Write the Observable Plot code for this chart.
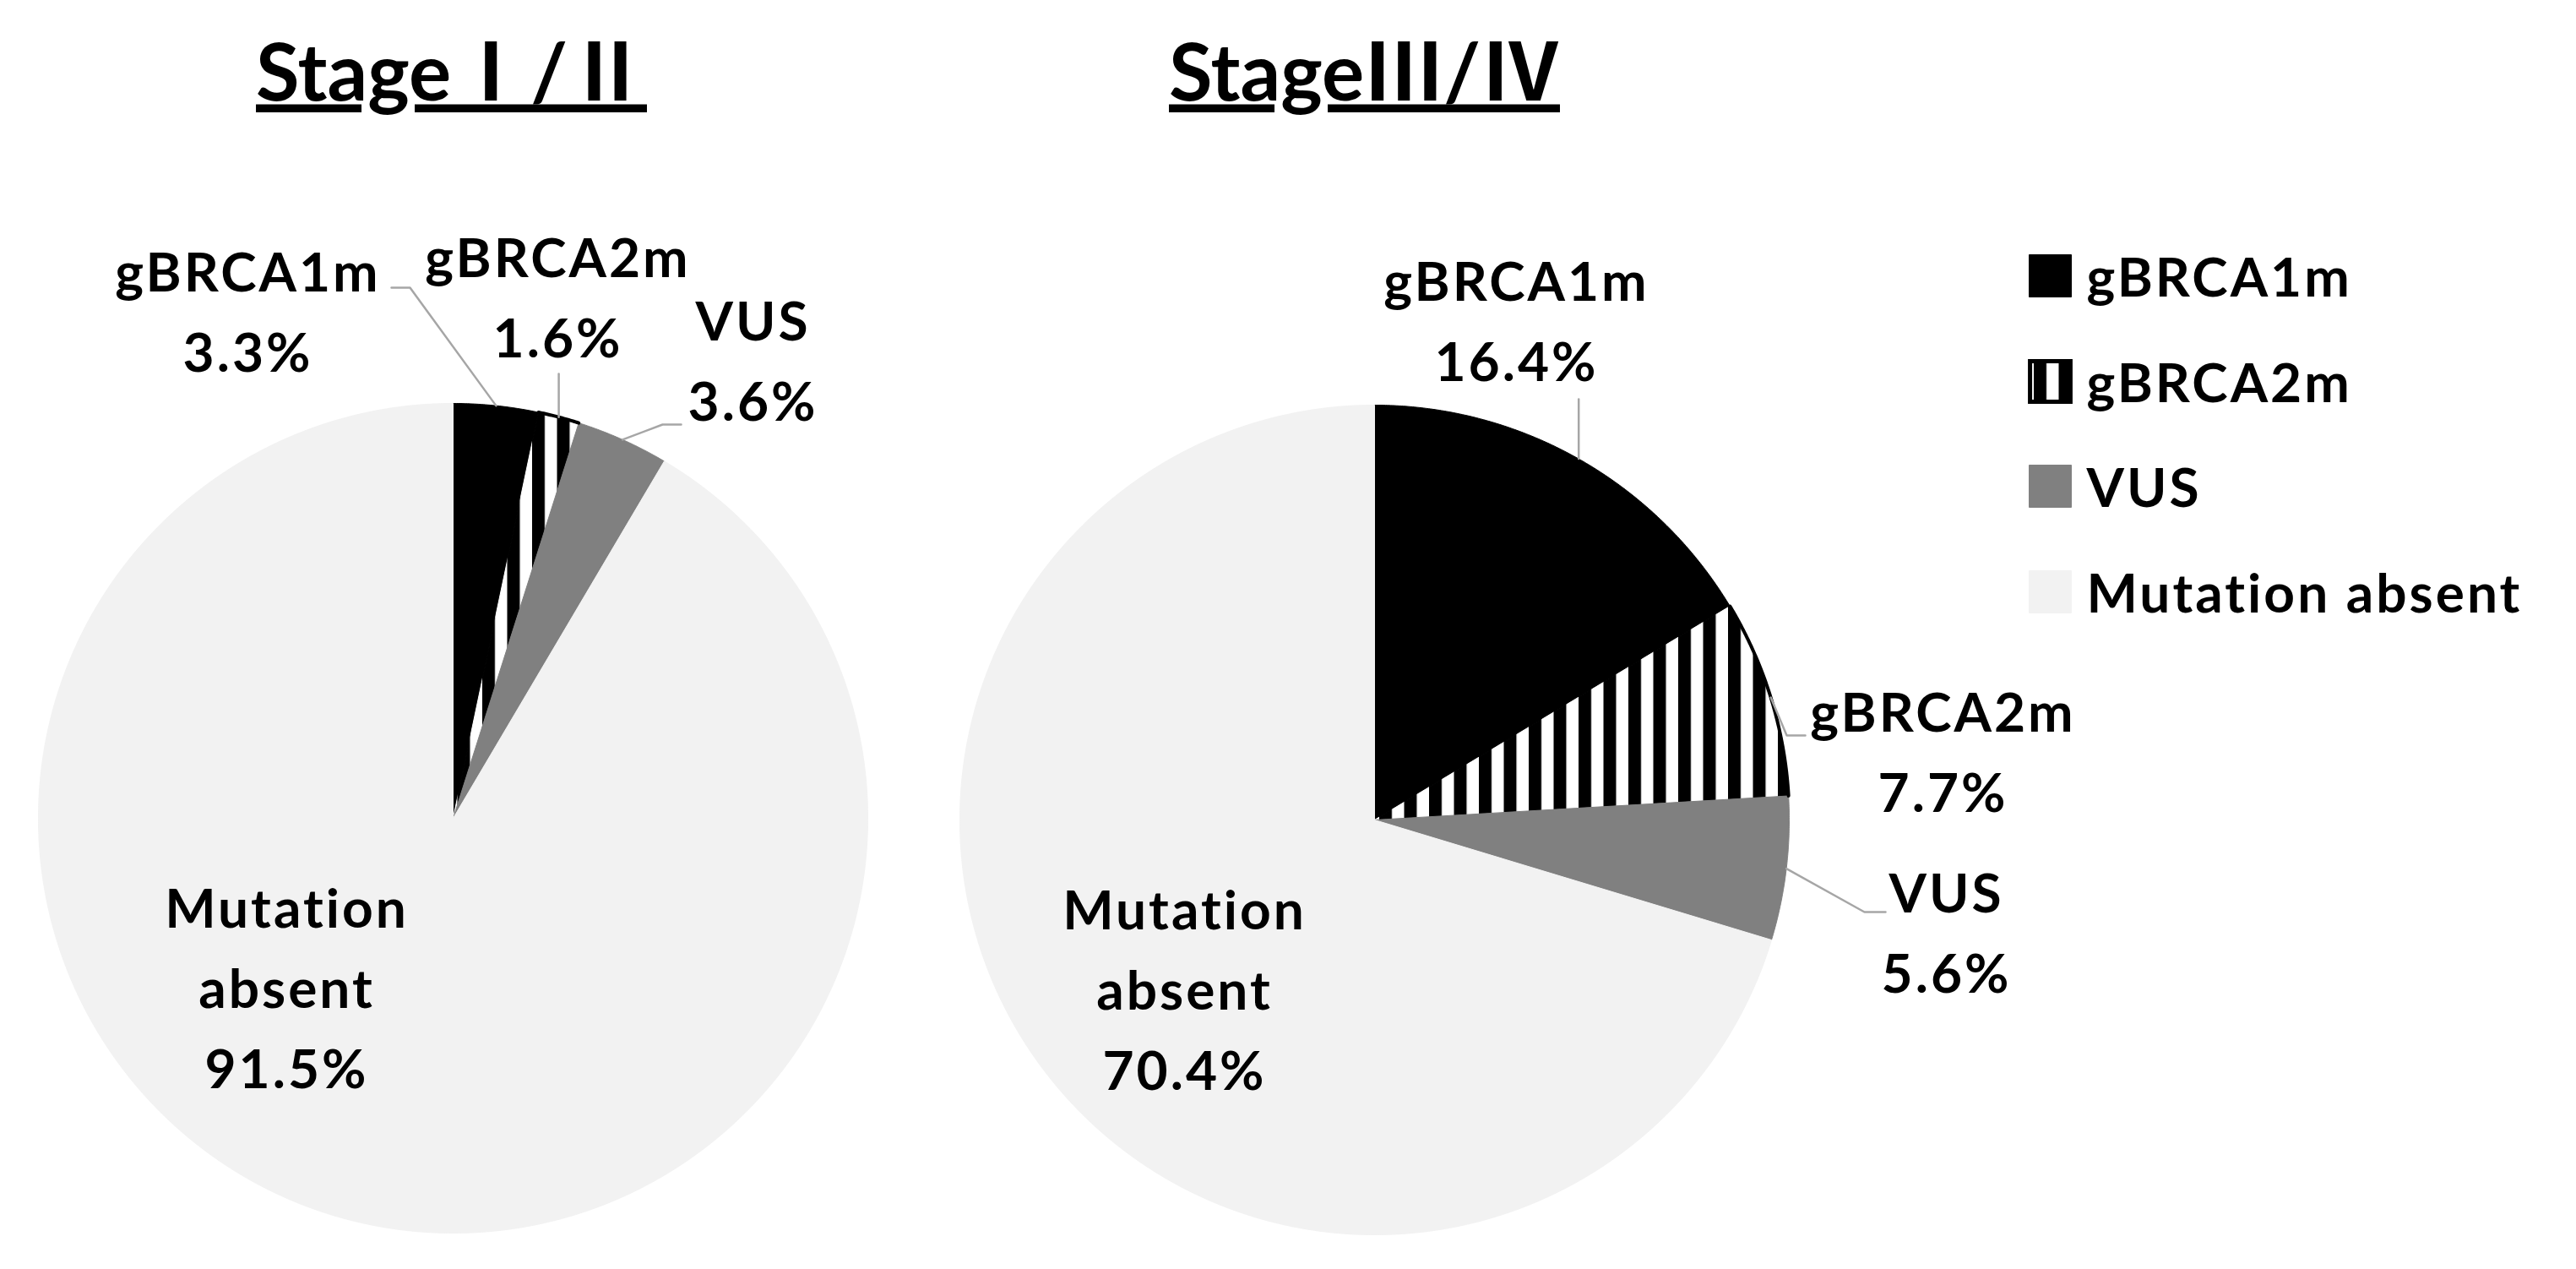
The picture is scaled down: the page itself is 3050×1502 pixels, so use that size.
<!DOCTYPE html>
<html>
<head>
<meta charset="utf-8">
<script src="https://cdn.jsdelivr.net/npm/d3@7"></script>
<script src="https://cdn.jsdelivr.net/npm/@observablehq/plot@0.6"></script>
<style>
  html, body { margin: 0; padding: 0; background: #ffffff; }
  #chart svg { display: block; }
  #chart svg text.lbl { letter-spacing: 3px; }
</style>
</head>
<body>
<div id="chart"></div>
<script>
// ---------- data ----------
const categories = ["gBRCA1m", "gBRCA2m", "VUS", "Mutation absent"];
const stageTitles = ["Stage\u2160/\u2161", "Stage\u2162/\u2163"];
const percentEarly = [3.3, 1.6, 3.6, 91.5];      // Stage I/II
const percentAdvanced = [16.4, 7.7, 5.6, 70.4];  // Stage III/IV
const sliceColors = ["#000000", "url(#stripes)", "#808080", "#f2f2f2"];

// ---------- layout (pixels) ----------
const W = 3050, H = 1502;
const pieCenters = [[536, 968], [1627, 970]];
const pieRadius = 491;
const titleX = [534, 1615], titleBaseline = 118, titleSize = 94;
const labelSize = 64, labelLineGap = 95;
const labelAnchors = [
  [[293, 345], [660, 328], [891, 403], [339, 1098]],
  [[1795, 356], [2300, 866], [2304, 1080], [1402, 1100]]
];
// bend points of leader lines after the slice anchor (null x = vertical)
const leaderBends = [
  [[[485, 340], [463, 340]], [[null, 442]], [[784, 502], [806, 502]], null],
  [[[null, 472]], [[2115, 870], [2137, 870]], [[2207, 1079], [2232, 1079]], null]
];
const legendSwatchX = 2427, legendTextX = 2470, legendRowY = [326, 451, 575, 700];

// ---------- derived geometry ----------
const series = [percentEarly, percentAdvanced];
const pie = d3.pie().sort(null).value(d => d.value);
const slicePts = [], stripeArc = [], leaderPts = [], labelRows = [];
const lh = labelLineGap / labelSize;

series.forEach((vals, s) => {
  const [cx, cy] = pieCenters[s];
  const pt = t => [cx + pieRadius * Math.sin(t), cy - pieRadius * Math.cos(t)];
  const arcs = pie(vals.map((v, i) => ({category: categories[i], value: v})));
  arcs.forEach((a, i) => {
    const key = `${s}-${i}`;
    const category = a.data.category;
    const n = Math.max(2, Math.ceil((a.endAngle - a.startAngle) / (Math.PI / 720)));
    slicePts.push({key, category, x: cx, y: cy});
    for (let k = 0; k <= n; ++k) {
      const [x, y] = pt(a.startAngle + (a.endAngle - a.startAngle) * k / n);
      slicePts.push({key, category, x, y});
      if (category === "gBRCA2m") stripeArc.push({key, x, y});
    }
    slicePts.push({key, category, x: cx, y: cy});
    // leader line
    const bends = leaderBends[s][i];
    if (bends) {
      const [ax, ay] = pt((a.startAngle + a.endAngle) / 2);
      leaderPts.push({key, x: ax, y: ay});
      bends.forEach(([bx, by]) => leaderPts.push({key, x: bx == null ? ax : bx, y: by}));
    }
    // label
    const pct = `${a.data.value.toFixed(1)}%`;
    const text = category === "Mutation absent" ? `Mutation\nabsent\n${pct}` : `${category}\n${pct}`;
    const [lx, lb] = labelAnchors[s][i];
    labelRows.push({x: lx, y: lb - 0.71 * lh * labelSize, text});
  });
});

const titleRows = stageTitles.map((t, i) => ({x: titleX[i], y: titleBaseline - 0.71 * titleSize, text: t}));
const legendRows = categories.map((c, i) => ({category: c, x: legendSwatchX, y: legendRowY[i]}));

const plot = Plot.plot({
  width: W,
  height: H,
  margin: 0,
  x: {domain: [0, W], axis: null},
  y: {domain: [0, H], reverse: true, axis: null},
  color: {domain: categories, range: sliceColors},
  style: {fontFamily: "Lato, 'Noto Sans CJK JP', sans-serif", background: "#ffffff", color: "#000"},
  marks: [
    Plot.line(slicePts, {x: "x", y: "y", z: "key", fill: "category", stroke: "category", strokeWidth: 1, curve: "linear"}),
    Plot.line(stripeArc, {x: "x", y: "y", z: "key", stroke: "#000", strokeWidth: 4, curve: "linear"}),
    Plot.line(leaderPts, {x: "x", y: "y", z: "key", stroke: "#a6a6a6", strokeWidth: 2.5, curve: "linear"}),
    Plot.text(labelRows, {x: "x", y: "y", text: "text", fontSize: labelSize, fontWeight: "bold",
      lineHeight: lh, lineAnchor: "top", textAnchor: "middle", fill: "#000"}),
    Plot.text(titleRows, {x: "x", y: "y", text: "text", fontSize: titleSize, fontWeight: "bold",
      lineAnchor: "top", textAnchor: "middle", fill: "#000"}),
    Plot.dot(legendRows, {x: "x", y: "y", symbol: "square", r: 28.2, fill: "category", stroke: "category", strokeWidth: 1}),
    Plot.dot(legendRows.filter(d => d.category === "gBRCA2m"), {x: "x", y: "y", symbol: "square", r: 27, fill: "none", stroke: "#000", strokeWidth: 5}),
    Plot.text(legendRows, {x: legendTextX, y: d => d.y - 0.71 * labelSize + 24, text: "category", fontSize: labelSize,
      fontWeight: "bold", lineAnchor: "top", textAnchor: "start", fill: "#000"})
  ]
});

// stripe pattern definition
const ns = "http://www.w3.org/2000/svg";
const defs = document.createElementNS(ns, "defs");
const pat = document.createElementNS(ns, "pattern");
pat.setAttribute("id", "stripes");
pat.setAttribute("patternUnits", "userSpaceOnUse");
pat.setAttribute("x", "10");
pat.setAttribute("width", "29.5");
pat.setAttribute("height", "20");
const r1 = document.createElementNS(ns, "rect");
r1.setAttribute("width", "29.5"); r1.setAttribute("height", "20"); r1.setAttribute("fill", "#ffffff");
const r2 = document.createElementNS(ns, "rect");
r2.setAttribute("width", "15"); r2.setAttribute("height", "20"); r2.setAttribute("fill", "#000000");
pat.appendChild(r1); pat.appendChild(r2); defs.appendChild(pat);
plot.insertBefore(defs, plot.firstChild);

// title underline, label letter spacing
plot.querySelectorAll("text").forEach(t => {
  if (t.textContent.startsWith("Stage")) {
    t.style.textDecoration = "underline";
    t.style.textDecorationThickness = "6px";
    t.style.textUnderlineOffset = "10px";
  } else {
    t.classList.add("lbl");
  }
});

document.getElementById("chart").appendChild(plot);
</script>
</body>
</html>
